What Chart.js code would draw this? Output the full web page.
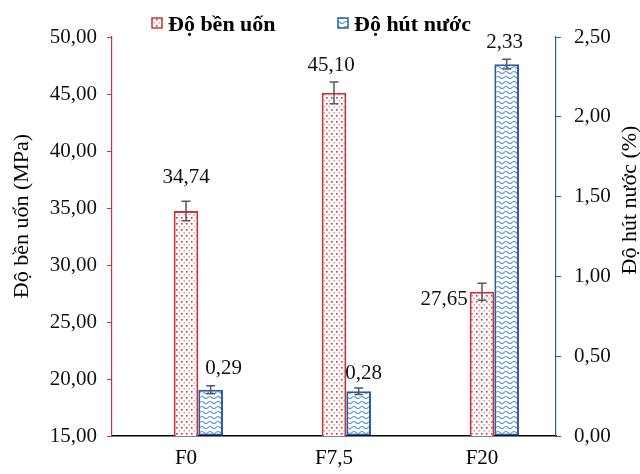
<!DOCTYPE html>
<html>
<head>
<meta charset="utf-8">
<script src="https://cdn.jsdelivr.net/npm/chart.js@4.4.1/dist/chart.umd.min.js"></script>
<style>
  html, body { margin: 0; padding: 0; background: #fff; }
  #wrap { width: 640px; height: 474px; }
</style>
</head>
<body>
<div id="wrap"><canvas id="chart" width="640" height="474"></canvas></div>
<script>
// values
var categories = ['F0', 'F7,5', 'F20'];
var strength = [34.74, 45.10, 27.65];      // Độ bền uốn (MPa)
var strengthErr = [0.85, 0.95, 0.75];
var absorption = [0.29, 0.28, 2.33];       // Độ hút nước (%)
var absorptionErr = [0.025, 0.02, 0.03];
var leftTicks = [15, 20, 25, 30, 35, 40, 45, 50];
var rightTicks = [0, 0.5, 1, 1.5, 2, 2.5];

var red = '#C9343A';
var blue = '#2D5DA6';
var serif = '"Liberation Serif", "Times New Roman", serif';

function fmt(v) { return Number(v).toFixed(2).replace('.', ','); }

function dotPattern() {
  var c = document.createElement('canvas');
  c.width = 5; c.height = 6;
  var g = c.getContext('2d');
  g.fillStyle = '#fff';
  g.fillRect(0, 0, 5, 6);
  g.fillStyle = '#d62f36';
  g.fillRect(1, 1, 1.6, 1.6);
  g.fillStyle = '#ec9598';
  g.fillRect(3.5, 4, 1.5, 1.5);
  return g.createPattern(c, 'repeat');
}

function wavePattern() {
  var c = document.createElement('canvas');
  c.width = 8; c.height = 5;
  var g = c.getContext('2d');
  g.fillStyle = '#fff';
  g.fillRect(0, 0, 8, 5);
  g.strokeStyle = '#5b97d6';
  g.lineWidth = 1.1;
  g.beginPath();
  g.moveTo(0, 2.5);
  g.quadraticCurveTo(2, 0.4, 4, 2.5);
  g.quadraticCurveTo(6, 4.6, 8, 2.5);
  g.stroke();
  return g.createPattern(c, 'repeat');
}

var redFill = dotPattern();
var blueFill = wavePattern();

// error bars drawn on the library's own scales
var errorBars = {
  id: 'errorBars',
  afterDatasetsDraw: function(chart) {
    var ctx = chart.ctx;
    var sets = [[1, strength, strengthErr, 'y'], [2, absorption, absorptionErr, 'y1']];
    ctx.save();
    ctx.strokeStyle = '#5a5a5a';
    ctx.lineWidth = 1.5;
    sets.forEach(function(s) {
      var meta = chart.getDatasetMeta(s[0]);
      var scale = chart.scales[s[3]];
      meta.data.forEach(function(bar, i) {
        var hi = scale.getPixelForValue(s[1][i] + s[2][i]);
        var lo = scale.getPixelForValue(s[1][i] - s[2][i]);
        ctx.beginPath();
        ctx.moveTo(bar.x, hi); ctx.lineTo(bar.x, lo);
        ctx.moveTo(bar.x - 4.5, hi); ctx.lineTo(bar.x + 4.5, hi);
        ctx.moveTo(bar.x - 4.5, lo); ctx.lineTo(bar.x + 4.5, lo);
        ctx.stroke();
      });
    });
    ctx.restore();
  }
};

// value labels, with the nudges the original layout used
var valueLabels = {
  id: 'valueLabels',
  afterDatasetsDraw: function(chart) {
    var ctx = chart.ctx;
    var nudge = { 1: [[0, -33], [-3, -27], [-38, 8]], 2: [[13, -21], [5, -18], [-2, -22]] };
    ctx.save();
    ctx.font = '21px ' + serif;
    ctx.fillStyle = '#111';
    ctx.textAlign = 'center';
    ctx.textBaseline = 'middle';
    [1, 2].forEach(function(di) {
      var vals = chart.data.datasets[di].data;
      chart.getDatasetMeta(di).data.forEach(function(bar, i) {
        ctx.fillText(fmt(vals[i]), bar.x + nudge[di][i][0], bar.y + nudge[di][i][1]);
      });
    });
    ctx.restore();
  }
};

// legend and both axis titles
var decorations = {
  id: 'decorations',
  afterDraw: function(chart) {
    var ctx = chart.ctx;
    ctx.save();
    ctx.fillStyle = '#000';
    ctx.font = '22px ' + serif;
    ctx.textAlign = 'center';
    ctx.textBaseline = 'middle';
    ctx.save();
    ctx.translate(22, 216);
    ctx.rotate(-Math.PI / 2);
    ctx.fillText('Độ bền uốn (MPa)', 0, 0);
    ctx.restore();
    ctx.save();
    ctx.translate(630, 200);
    ctx.rotate(-Math.PI / 2);
    ctx.fillText('Độ hút nước (%)', 0, 0);
    ctx.restore();

    var items = [[152, chart.data.datasets[1]], [338, chart.data.datasets[2]]];
    ctx.font = 'bold 22px ' + serif;
    ctx.textAlign = 'left';
    ctx.textBaseline = 'alphabetic';
    items.forEach(function(it) {
      var ds = it[1];
      ctx.fillStyle = ds.backgroundColor;
      ctx.fillRect(it[0], 18, 10, 10);
      ctx.strokeStyle = ds.borderColor;
      ctx.lineWidth = 1.5;
      ctx.strokeRect(it[0], 18, 10, 10);
      ctx.fillStyle = '#000';
      ctx.fillText(ds.label, it[0] + 16, 31);
    });
    ctx.restore();
  }
};

new Chart(document.getElementById('chart'), {
  type: 'bar',
  data: {
    labels: categories,
    datasets: [{
      // empty slot so the red bar sits on the category centre
      label: '',
      data: [],
      yAxisID: 'y'
    }, {
      label: 'Độ bền uốn',
      data: strength,
      yAxisID: 'y',
      backgroundColor: redFill,
      borderColor: red,
      borderWidth: 2,
      borderSkipped: false
    }, {
      label: 'Độ hút nước',
      data: absorption,
      yAxisID: 'y1',
      backgroundColor: blueFill,
      borderColor: blue,
      borderWidth: 2,
      borderSkipped: false
    }]
  },
  options: {
    responsive: false,
    animation: false,
    layout: { padding: { top: 37, left: 0, right: 0, bottom: 0 } },
    datasets: { bar: { categoryPercentage: 0.5, barPercentage: 1 } },
    plugins: {
      legend: { display: false },
      tooltip: { enabled: false }
    },
    scales: {
      x: {
        grid: { display: false, drawTicks: false },
        border: { color: '#000', width: 1.5 },
        ticks: { color: '#000', font: { family: serif, size: 21 }, padding: 10 },
        afterFit: function(s) { s.height = 38; }
      },
      y: {
        position: 'left',
        min: 15,
        max: 50,
        afterBuildTicks: function(s) { s.ticks = leftTicks.map(function(v) { return { value: v }; }); },
        grid: { drawOnChartArea: false, color: red, tickLength: 5 },
        border: { color: red, width: 1.2 },
        ticks: { color: '#111', font: { family: serif, size: 21 }, padding: 10, callback: fmt },
        afterFit: function(s) { s.width = 112; }
      },
      y1: {
        position: 'right',
        min: 0,
        max: 2.5,
        afterBuildTicks: function(s) { s.ticks = rightTicks.map(function(v) { return { value: v }; }); },
        grid: { drawOnChartArea: false, color: blue, tickLength: 5 },
        border: { color: blue, width: 1.2 },
        ticks: { color: '#111', font: { family: serif, size: 21 }, padding: 13, callback: fmt },
        afterFit: function(s) { s.width = 84; }
      }
    }
  },
  plugins: [errorBars, valueLabels, decorations]
});
</script>
</body>
</html>
